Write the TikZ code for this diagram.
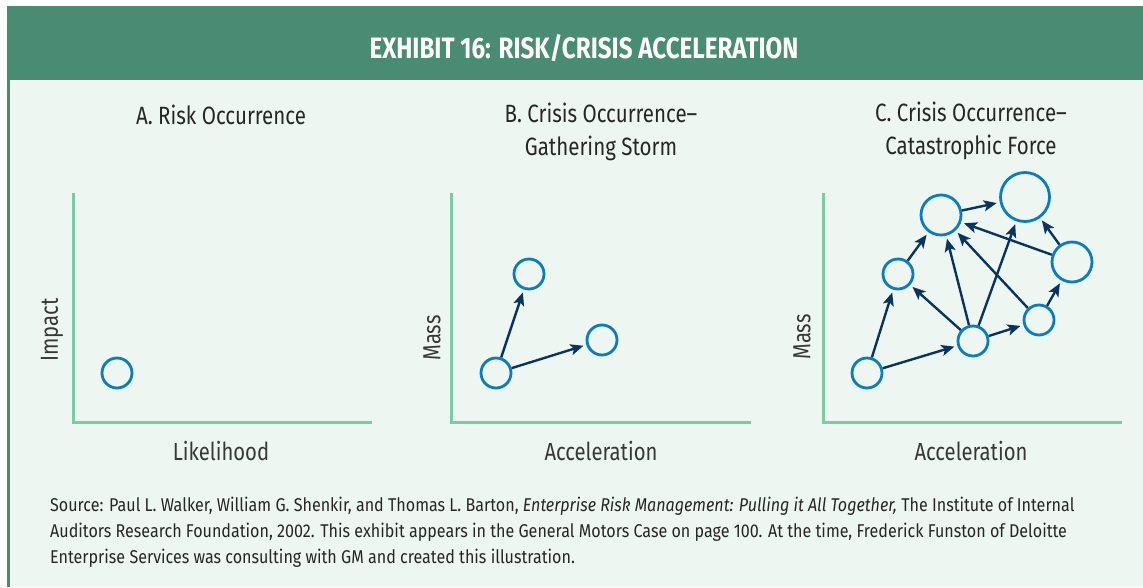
\documentclass[tikz,border=0pt]{standalone}
\usepackage{fontspec}
\setmainfont{Fira Sans}[FakeStretch=0.82]
\newfontfamily\srcfont{Fira Sans}[FakeStretch=0.87]
\usetikzlibrary{arrows.meta}
\definecolor{hdr}{RGB}{74,139,116}
\definecolor{bgc}{RGB}{238,246,241}
\definecolor{axisc}{RGB}{125,203,166}
\definecolor{circc}{RGB}{12,124,193}
\definecolor{arrc}{RGB}{10,52,96}
\definecolor{txtc}{RGB}{55,55,55}
\begin{document}
\begin{tikzpicture}[x=1pt,y=-1pt,
  riskc/.style={circle,draw=circc,line width=2.8pt,fill=bgc,inner sep=0pt,minimum size=#1},
  riskc/.default=30pt,
  flow/.style={draw=arrc,line width=2.4pt,-{Stealth[length=13pt,width=11pt,inset=3pt]},shorten >=3pt},
  axisline/.style={draw=axisc,line width=3pt},
  ptitle/.style={font=\fontsize{25}{33}\selectfont,text=black!85,align=center},
  alabel/.style={font=\fontsize{24.7}{26}\selectfont,text=txtc},
  srcline/.style={font=\srcfont\fontsize{18.5}{20}\selectfont,text=black!85,anchor=base west,inner sep=0pt}]
\useasboundingbox (0,0) rectangle (1143,587);
\fill[white] (0,0) rectangle (1143,587);
\fill[bgc] (7,80) rectangle (1143,587);
\fill[hdr] (7,6) rectangle (1143,80);
\fill[hdr] (7,80) rectangle (9.5,587);
\node[text=white,font=\fontsize{29.5}{30}\selectfont\bfseries] (hdrtext) at (584,48) {EXHIBIT 16: RISK/CRISIS ACCELERATION};

% Panel A
\node[ptitle] (ta) at (221,115) {A. Risk Occurrence};
\draw[axisline] (73,193) -- (73,422) -- (372,422);
\node[alabel,rotate=90] (la) at (52,330) {Impact};
\node[alabel] (lla) at (221,451) {Likelihood};
\node[riskc] (a1) at (117,373) {};

% Panel B
\node[ptitle] (tb) at (601,131.5) {B. Crisis Occurrence–\\Gathering Storm};
\draw[axisline] (451,193) -- (451,422) -- (751,422);
\node[alabel,rotate=90] (lb) at (432,338) {Mass};
\node[alabel] (llb) at (601,451) {Acceleration};
\node[riskc] (b1) at (529,274) {};
\node[riskc] (b2) at (602,340) {};
\node[riskc] (b3) at (496,373) {};
\draw[flow] (b3) -- (b1);
\draw[flow] (b3) -- (b2);

% Panel C
\node[ptitle] (tc) at (971,130.5) {C. Crisis Occurrence–\\Catastrophic Force};
\draw[axisline] (823,193) -- (823,422) -- (1122,422);
\node[alabel,rotate=90] (lc) at (802,337) {Mass};
\node[alabel] (llc) at (971,451) {Acceleration};
\node[riskc] (c1) at (867,373) {};
\node[riskc] (c2) at (898,274) {};
\node[riskc=40pt] (c3) at (941,215) {};
\node[riskc=49pt] (c4) at (1025,197) {};
\node[riskc=40pt] (c5) at (1072,262) {};
\node[riskc] (c6) at (973,341) {};
\node[riskc] (c7) at (1039,320) {};
\draw[flow] (c1) -- (c2);
\draw[flow] (c1) -- (c6);
\draw[flow] (c2) -- (c3);
\draw[flow] (c3) -- (c4);
\draw[flow] (c6) -- (c2);
\draw[flow] (c6) -- (c3);
\draw[flow] (c6) -- (c4);
\draw[flow] (c6) -- (c7);
\draw[flow] (c7) -- (c3);
\draw[flow] (c7) -- (c5);
\draw[flow] (c5) -- (c3);
\draw[flow] (c5) -- (c4);

% Source
\node[srcline] (s1) at (50,511) {Source: Paul L. Walker, William G. Shenkir, and Thomas L. Barton, \textit{Enterprise Risk Management: Pulling it All Together,} The Institute of Internal};
\node[srcline] (s2) at (50,537) {Auditors Research Foundation, 2002. This exhibit appears in the General Motors Case on page 100. At the time, Frederick Funston of Deloitte};
\node[srcline] (s3) at (50,563) {Enterprise Services was consulting with GM and created this illustration.};
\end{tikzpicture}
\end{document}
